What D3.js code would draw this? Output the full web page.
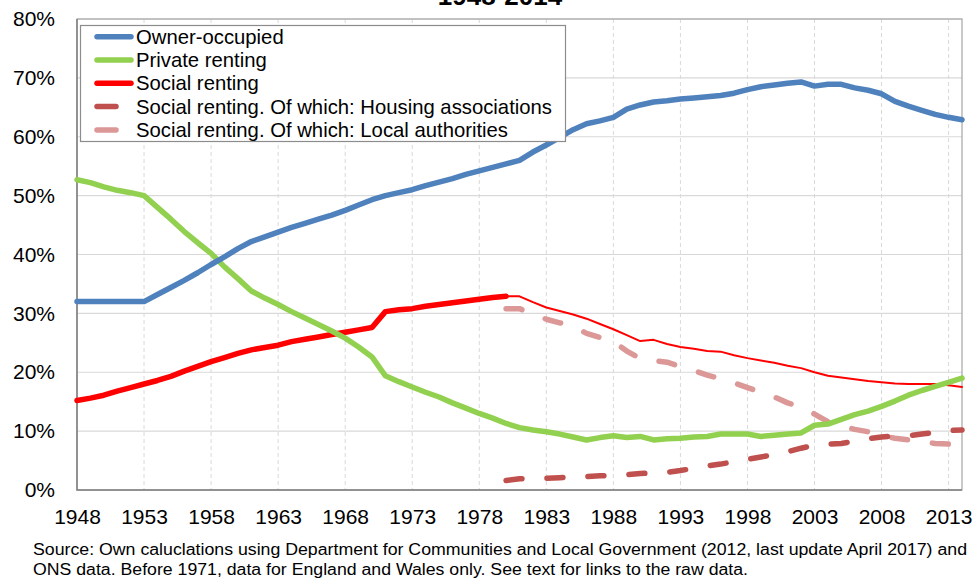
<!DOCTYPE html>
<html>
<head>
<meta charset="utf-8">
<script src="https://cdn.jsdelivr.net/npm/d3@7/dist/d3.min.js"></script>
<style>
  html, body { margin: 0; padding: 0; background: #fff; }
  svg { display: block; font-family: "Liberation Sans", Arial, sans-serif; }
</style>
</head>
<body>
<svg id="chart" width="977" height="581"></svg>
<script>
// Tenure shares (% of dwellings), 1948-2014
const years = d3.range(1948, 2015);

const ownerOccupied = [
  32.0, 32.0, 32.0, 32.0, 32.0, 32.0, 33.2, 34.4, 35.6, 36.9,
  38.3, 39.6, 41.0, 42.2, 43.0, 43.8, 44.6, 45.3, 46.0, 46.7,
  47.5, 48.4, 49.3, 50.0, 50.5, 51.0, 51.7, 52.3, 52.9, 53.6,
  54.2, 54.8, 55.4, 56.0, 57.4, 58.6, 59.9, 61.2, 62.2, 62.7,
  63.3, 64.7, 65.4, 65.9, 66.1, 66.4, 66.6, 66.8, 67.0, 67.4,
  68.0, 68.5, 68.8, 69.1, 69.3, 68.6, 68.9, 68.9, 68.3, 67.9,
  67.3, 66.0, 65.2, 64.5, 63.8, 63.3, 62.9
];

const privateRenting = [
  52.7, 52.2, 51.5, 50.9, 50.5, 50.0, 48.0, 46.0, 43.9, 42.0,
  40.2, 37.9, 35.9, 33.8, 32.6, 31.5, 30.3, 29.2, 28.1, 27.0,
  25.8, 24.3, 22.6, 19.4, 18.4, 17.5, 16.6, 15.8, 14.8, 13.9,
  13.0, 12.2, 11.3, 10.6, 10.2, 9.9, 9.5, 9.0, 8.5, 8.9,
  9.2, 8.9, 9.1, 8.5, 8.7, 8.8, 9.0, 9.1, 9.5, 9.5,
  9.5, 9.1, 9.3, 9.5, 9.7, 11.0, 11.2, 12.0, 12.8, 13.4,
  14.2, 15.1, 16.1, 16.9, 17.6, 18.3, 19.0
];

const socialRenting = [
  15.2, 15.6, 16.1, 16.8, 17.4, 18.0, 18.6, 19.3, 20.2, 21.0,
  21.8, 22.5, 23.2, 23.8, 24.2, 24.6, 25.2, 25.6, 26.0, 26.4,
  26.8, 27.2, 27.6, 30.3, 30.6, 30.8, 31.2, 31.5, 31.8, 32.1,
  32.4, 32.7, 32.9, 32.9, 31.9, 31.0, 30.4, 29.8, 29.1, 28.2,
  27.3, 26.3, 25.3, 25.5, 24.8, 24.3, 24.0, 23.6, 23.5, 22.9,
  22.4, 22.0, 21.6, 21.1, 20.7, 20.0, 19.4, 19.1, 18.8, 18.5,
  18.3, 18.1, 18.0, 18.0, 18.0, 17.8, 17.5
];
// Years drawn with the heavy stroke; later years continue as a thin line
const socialHeavyUntil = 1980;

const breakdownYears = d3.range(1980, 2015);
const housingAssociations = [
  1.6, 1.9, 2.0, 2.0, 2.1, 2.2, 2.3, 2.4, 2.5, 2.6,
  2.8, 2.9, 3.0, 3.3, 3.7, 4.1, 4.4, 4.8, 5.2, 5.6,
  6.0, 6.5, 7.1, 7.6, 7.8, 7.9, 8.3, 8.7, 9.0, 9.2,
  9.2, 9.5, 9.8, 10.1, 10.2
];
const localAuthorities = [
  30.8, 30.8, 29.9, 29.0, 28.4, 27.8, 26.6, 25.9, 25.2, 23.6,
  22.3, 22.0, 21.7, 21.0, 20.3, 19.5, 18.9, 18.2, 17.4, 16.6,
  15.8, 14.8, 14.1, 12.9, 11.6, 10.9, 10.3, 9.9, 9.2, 8.8,
  8.5, 8.2, 7.9, 7.8, 7.6
];

const xTickYears = d3.range(1948, 2014, 5);
const yTicks = [0, 10, 20, 30, 40, 50, 60, 70, 80];

const legendLabels = [
  "Owner-occupied",
  "Private renting",
  "Social renting",
  "Social renting. Of which: Housing associations",
  "Social renting. Of which: Local authorities"
];
const titleText = "1948-2014";
const sourceLines = [
  "Source: Own caluclations using Department for Communities and Local Government (2012, last update April 2017) and",
  "ONS data. Before 1971, data for England  and Wales only. See text for links to the raw data."
];

// ---- layout ----
const svg = d3.select("#chart");
const plot = { left: 77, right: 962, top: 19, bottom: 490 };

const x = d3.scaleLinear().domain([1948, 2014]).range([plot.left, plot.right]);
const y = d3.scaleLinear().domain([0, 80]).range([plot.bottom, plot.top]);

const colors = {
  owner: "#4F81BD",
  private: "#92D050",
  social: "#FF0000",
  ha: "#C0504D",
  la: "#DB9896"
};

// Title (only its last line sits inside the frame)
svg.append("text")
  .attr("x", 500).attr("y", 5)
  .attr("text-anchor", "middle")
  .attr("font-size", 26).attr("font-weight", "bold")
  .attr("fill", "#000")
  .text(titleText);

// Horizontal gridlines
svg.append("g")
  .selectAll("line")
  .data(yTicks.slice(1))
  .join("line")
  .attr("x1", plot.left).attr("x2", plot.right)
  .attr("y1", d => y(d)).attr("y2", d => y(d))
  .attr("stroke", "#D9D9D9").attr("stroke-width", 1.2);

// Vertical dashed gridlines
svg.append("g")
  .selectAll("line")
  .data(xTickYears.slice(1))
  .join("line")
  .attr("x1", d => x(d)).attr("x2", d => x(d))
  .attr("y1", plot.top).attr("y2", plot.bottom)
  .attr("stroke", "#D9D9D9").attr("stroke-width", 1)
  .attr("stroke-dasharray", "4,3");

// Plot frame
svg.append("rect")
  .attr("x", plot.left).attr("y", plot.top)
  .attr("width", plot.right - plot.left).attr("height", plot.bottom - plot.top)
  .attr("fill", "none").attr("stroke", "#A6A6A6").attr("stroke-width", 1.2);
svg.append("path")
  .attr("d", `M${plot.left},${plot.top}V${plot.bottom}H${plot.right}`)
  .attr("fill", "none").attr("stroke", "#808080").attr("stroke-width", 1.5);

// Axes (labels only, ticks hidden)
const yAxis = d3.axisLeft(y).tickValues(yTicks).tickFormat(d => d + "%").tickSize(0).tickPadding(22);
const gy = svg.append("g").attr("transform", `translate(${plot.left},0)`).call(yAxis);
gy.select(".domain").remove();
gy.selectAll("text").attr("font-size", 21).attr("fill", "#000")
  .attr("font-family", "Liberation Sans, Arial, sans-serif");

const xAxis = d3.axisBottom(x).tickValues(xTickYears).tickFormat(d3.format("d")).tickSize(0).tickPadding(19);
const gx = svg.append("g").attr("transform", `translate(0,${plot.bottom})`).call(xAxis);
gx.select(".domain").remove();
gx.selectAll("text").attr("font-size", 21).attr("fill", "#000")
  .attr("font-family", "Liberation Sans, Arial, sans-serif");

// Series lines
const line = d3.line().x(d => x(d[0])).y(d => y(d[1]));
const pairs = (ys, vs) => ys.map((yr, i) => [yr, vs[i]]);

const g = svg.append("g").attr("fill", "none")
  .attr("stroke-linejoin", "round").attr("stroke-linecap", "round");

const socialPairs = pairs(years, socialRenting);

g.append("path").attr("d", line(pairs(breakdownYears, localAuthorities)))
  .attr("stroke", colors.la).attr("stroke-width", 5.5).attr("stroke-dasharray", "16,25");
g.append("path").attr("d", line(pairs(breakdownYears, housingAssociations)))
  .attr("stroke", colors.ha).attr("stroke-width", 5.5).attr("stroke-dasharray", "16,25");
g.append("path").attr("d", line(socialPairs.filter(d => d[0] >= socialHeavyUntil)))
  .attr("stroke", colors.social).attr("stroke-width", 2);
g.append("path").attr("d", line(socialPairs.filter(d => d[0] <= socialHeavyUntil)))
  .attr("stroke", colors.social).attr("stroke-width", 5.5);
g.append("path").attr("d", line(pairs(years, privateRenting)))
  .attr("stroke", colors.private).attr("stroke-width", 5.5);
g.append("path").attr("d", line(pairs(years, ownerOccupied)))
  .attr("stroke", colors.owner).attr("stroke-width", 5.5);

// Legend
const legend = svg.append("g");
legend.append("rect")
  .attr("x", 80.5).attr("y", 25.5).attr("width", 485).attr("height", 116)
  .attr("fill", "#fff").attr("stroke", "#8C8C8C").attr("stroke-width", 1.2);

const legendItems = [
  { label: legendLabels[0], color: colors.owner, dashed: false },
  { label: legendLabels[1], color: colors.private, dashed: false },
  { label: legendLabels[2], color: colors.social, dashed: false },
  { label: legendLabels[3], color: colors.ha, dashed: true },
  { label: legendLabels[4], color: colors.la, dashed: true }
];
const rows = legend.selectAll("g.item").data(legendItems).join("g")
  .attr("class", "item")
  .attr("transform", (d, i) => `translate(0,${36.7 + i * 23.3})`);
rows.append("line")
  .attr("x1", 97).attr("x2", d => d.dashed ? 116 : 131)
  .attr("y1", 0).attr("y2", 0)
  .attr("stroke", d => d.color).attr("stroke-width", 5.5)
  .attr("stroke-linecap", "round");
rows.append("text")
  .attr("x", 136).attr("y", 7)
  .attr("font-size", 20.3).attr("fill", "#000")
  .text(d => d.label);

// Source note (justified first line, stretched type)
svg.append("text")
  .attr("x", 33).attr("y", 555)
  .attr("font-size", 16).attr("fill", "#000")
  .attr("textLength", 934).attr("lengthAdjust", "spacingAndGlyphs")
  .text(sourceLines[0]);
svg.append("text")
  .attr("x", 33).attr("y", 575)
  .attr("font-size", 16).attr("fill", "#000")
  .attr("textLength", 715).attr("lengthAdjust", "spacingAndGlyphs")
  .text(sourceLines[1]);
</script>
</body>
</html>
